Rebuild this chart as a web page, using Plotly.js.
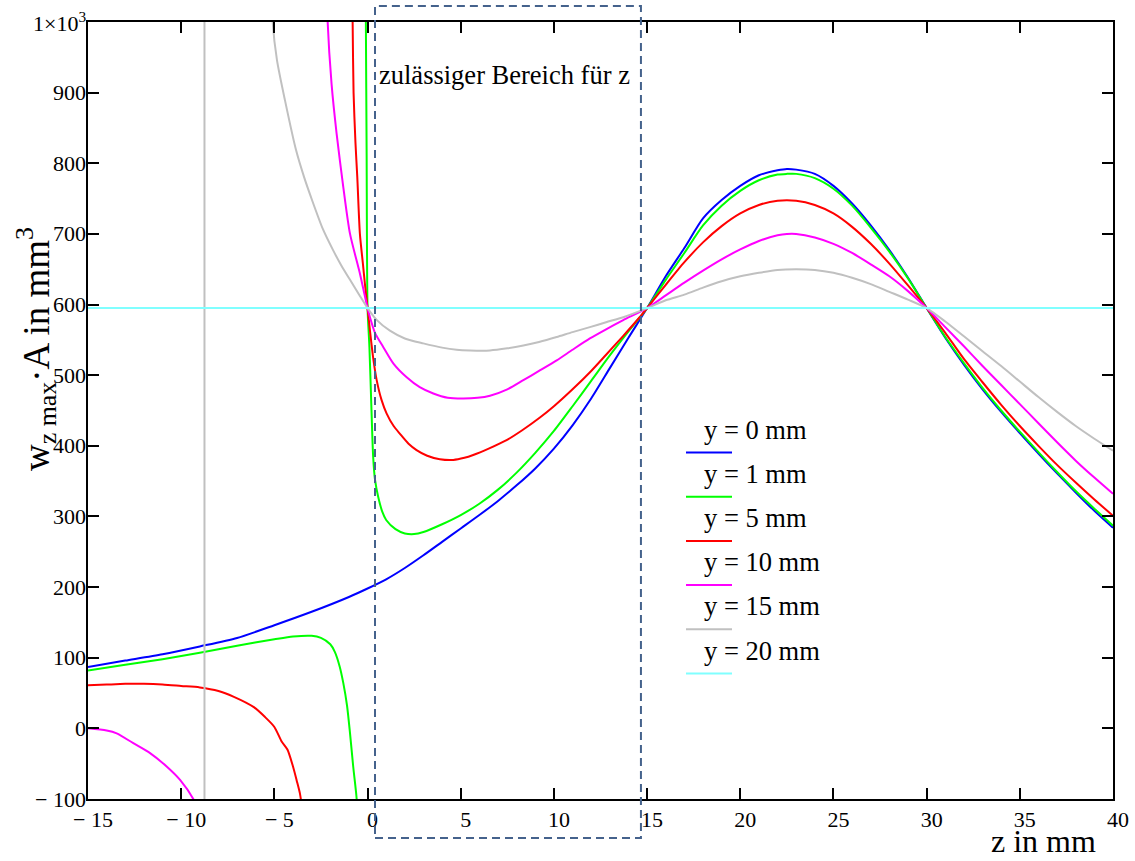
<!DOCTYPE html>
<html><head><meta charset="utf-8">
<script src="https://cdn.plot.ly/plotly-3.0.1.min.js"></script>
<style>html,body{margin:0;padding:0;background:#fff}#chart{width:1135px;height:861px}</style>
</head><body><div id="chart"></div>
<script>
// ---- data ----
const seriesNames = ['y = 0 mm','y = 1 mm','y = 5 mm','y = 10 mm','y = 15 mm','y = 20 mm'];

const z_y0 = [-15,-13,-11,-9,-7,-5,-3,-1,0,1,2,3,4,5,6,7,8,9,10,11,12,13,14,15,16,17,18,19,20,21,22,22.5,23,24,25,26,27,28,29,30,31,32,33,34,35,36,37,38,39,40];
const w_y0 = [87,96,105,116,128,146,165,186,198,211,227,245,264,283,302,322,344,368,396,429,467,510,553,595,640,680,722,748,768,783,790,792,791,785,768,743,712,677,638,595,553,515,480,448,418,389,361,334,308,284];

const z_y1 = [-15,-13,-11,-9,-7,-5,-4,-3,-2.5,-2,-1.75,-1.5,-1.3,-1.1,-0.94,-0.77,-0.6,-0.5,null,
  -0.11,-0.09,-0.05,0,0.1,0.2,0.3,0.4,0.57,0.8,1,1.5,2,2.5,3,4,5,6,7,8,9,10,11,12,13,14,15,
  16,17,18,19,20,21,22,22.5,23,24,25,26,27,28,29,30,31,32,33,34,35,36,37,38,39,40];
const w_y1 = [82,90,98,107,117,126,130,131,128,119,108,88,64,32,-7,-54,-95,-130,null,
  1100,1000,820,595,540,460,385,352,328,306,295,282,276,275,278,289,302,318,338,362,390,421,456,492,528,562,595,
  635,673,712,740,761,776,784,785,785,779,764,740,709,675,637,595,554,517,482,450,420,391,363,336,311,287];

const z_y5 = [-15,-14,-13,-12,-11,-10,-9,-8,-7.2,-6.1,-5.5,-5,-4.6,-4.3,-4,-3.8,-3.63,-3.5,null,
  -0.82,-0.8,-0.75,-0.65,-0.55,-0.41,-0.25,-0.14,0,0.13,0.3,0.49,0.75,1.02,1.4,1.74,2.2,2.63,3.2,3.88,4.6,5.2,5.67,6.5,7.46,8.3,9.25,10,11,12,12.8,13.7,14.6,15,
  16,17,18,19,20,21,22,23,24,25,26,27,28,29,30,31,32,33,34,35,36,37,38,39,40];
const w_y5 = [61,62,63,63,62,60,58,53,45,30,16,2,-19,-30,-54,-74,-92,-115,null,
  1050,1000,900,830,780,700,658,629,595,563,525,493,465,446,428,417,403,394,386,381,380,383,387,396,408,422,440,456,480,506,529,555,582,595,
  628,660,688,711,729,741,747,747,741,729,710,686,658,627,595,560,523,490,458,428,400,373,348,324,301];

const z_y10 = [-15,-14,-13.46,-12.57,-11.67,-10.78,-10.06,-9.35,-9.1,null,
  -2.18,-2.14,-1.93,-1.66,-1.3,-0.94,-0.41,0,0.13,0.4,0.84,1.4,2.1,2.8,3.53,4.3,5.14,5.9,6.57,7.5,8.36,9.2,10.15,11,11.93,12.8,13.72,15,
  16,17,18,19,20,21,22,22.5,23,24,25,26,27,28,29,30,31,32,33,34,35,36,37,38,39,40];
const w_y10 = [0,-3,-7,-21,-35,-54,-73,-100,-115,null,
  1050,1000,912,842,766,700,644,595,582,560,540,516,497,483,474,468,467,468,471,480,493,506,521,536,552,565,578,595,
  613,631,648,664,678,690,698,700,700,695,686,673,657,640,619,595,568,541,513,486,459,432,405,379,355,332];

const z_y15 = [-8.75,-8.75,null,
  -5.15,-5.09,-4.86,-4.43,-3.84,-3.4,-2.98,-2.4,-1.85,-1.4,-0.94,-0.45,0,0.5,1.2,2,2.99,4,4.78,5.5,6.57,7.5,8.36,9.2,10.15,11,11.93,12.8,13.72,15,
  16,17,18,19,20,21,22,23,24,25,26,27,28,29,30,31,32,33,34,35,36,37,38,39,40];
const w_y15 = [-150,1150,null,
  1080,1000,946,889,819,780,748,707,677,655,635,614,595,578,563,552,545,539,536,535,535,538,542,547,554,561,568,575,582,595,
  606,614,624,633,640,645,649,650,649,645,638,629,618,607,595,576,555,534,513,491,469,448,428,410,393];

const z_y20 = [-15,40];
const w_y20 = [595,595];

const xTickVals = [-15,-10,-5,0,5,10,15,20,25,30,35,40];
const xTickText = ['\u2212 15','\u2212 10','\u2212 5','0','5','10','15','20','25','30','35','40'];
const yTickVals = [-100,0,100,200,300,400,500,600,700,800,900,1000];
const yTickText = ['\u2212 100','0','100','200','300','400','500','600','700','800','900','1\u00d710<sup>3</sup>'];

const zoneLabel = 'zul\u00e4ssiger Bereich f\u00fcr z';
const xTitle = 'z in mm';
const yTitle = 'w<sub>z max</sub>\u00b7A in mm<sup>3</sup>';

// ---- styling ----
const colors = ['#0000FF','#00FF00','#FF0000','#FF00FF','#C0C0C0','#80FFFF'];
const FONT = '"Liberation Serif", "Times New Roman", serif';
const xRange = [-15, 40], yRange = [-100, 1000];

const zs = [z_y0, z_y1, z_y5, z_y10, z_y15, z_y20];
const ws = [w_y0, w_y1, w_y5, w_y10, w_y15, w_y20];

const traces = zs.map((z, i) => ({
  x: z, y: ws[i], type: 'scatter', mode: 'lines', name: seriesNames[i],
  line: {color: colors[i], width: 2, shape: 'spline', smoothing: 0.7},
  connectgaps: false, hoverinfo: 'skip', showlegend: false
}));

const px2paperX = px => (px - 88) / 1025;
const py2paperY = py => (799 - py) / 777;
const z2paper = z => (z - xRange[0]) / (xRange[1] - xRange[0]);

const shapes = [{
  type: 'rect', xref: 'paper', yref: 'paper',
  x0: z2paper(0.40), x1: z2paper(14.67), y0: py2paperY(838), y1: py2paperY(6),
  line: {color: '#45628C', width: 2, dash: '8px,5px'}, fillcolor: 'rgba(0,0,0,0)', layer: 'above'
}];
const annotations = [
  {xref: 'paper', yref: 'paper', x: px2paperX(377), y: py2paperY(75), xanchor: 'left', yanchor: 'middle',
   text: zoneLabel, showarrow: false, font: {family: FONT, size: 26.5, color: '#000'}},
  {xref: 'paper', yref: 'paper', x: px2paperX(1097), y: py2paperY(860), xanchor: 'right', yanchor: 'bottom',
   text: xTitle, showarrow: false, borderpad: 0, font: {family: FONT, size: 32, color: '#000'}},
  {xref: 'paper', yref: 'paper', x: px2paperX(36), y: py2paperY(349), xanchor: 'center', yanchor: 'middle',
   textangle: -90, text: yTitle, showarrow: false, font: {family: FONT, size: 37, color: '#000'}}
];
// y tick labels placed on the y axis scale, hugging the axis line as in the reference
yTickVals.forEach((v, i) => {
  annotations.push({xref: 'paper', yref: 'y', x: 0, y: v, xanchor: 'right', yanchor: 'middle',
    xshift: -1, text: yTickText[i], showarrow: false, borderpad: 0,
    font: {family: FONT, size: 22, color: '#000'}});
});
seriesNames.forEach((nm, i) => {
  const lineY = 452.5 + i * 44.2;
  shapes.push({type: 'line', xref: 'paper', yref: 'paper',
    x0: px2paperX(686), x1: px2paperX(732), y0: py2paperY(lineY), y1: py2paperY(lineY),
    line: {color: colors[i], width: 2}});
  annotations.push({xref: 'paper', yref: 'paper', x: px2paperX(702), y: py2paperY(lineY - 23),
    xanchor: 'left', yanchor: 'middle', text: nm, showarrow: false,
    font: {family: FONT, size: 26.5, color: '#000'}});
});

const axisCommon = {
  showgrid: false, zeroline: false, showline: true, linecolor: '#000', linewidth: 2,
  mirror: 'ticks', ticks: 'inside', ticklen: 11, tickwidth: 2, tickcolor: '#000',
  tickfont: {family: FONT, size: 22, color: '#000'}, tickmode: 'array', fixedrange: true
};

const layout = {
  width: 1135, height: 861,
  margin: {l: 88, r: 22, t: 22, b: 62, autoexpand: false},
  paper_bgcolor: '#fff', plot_bgcolor: '#fff',
  font: {family: FONT, color: '#000'},
  showlegend: false,
  xaxis: Object.assign({}, axisCommon, {range: xRange, tickvals: xTickVals, ticktext: xTickText, ticklabelshift: 5}),
  yaxis: Object.assign({}, axisCommon, {range: yRange, tickvals: yTickVals, showticklabels: false}),
  shapes: shapes,
  annotations: annotations
};

Plotly.newPlot('chart', traces, layout, {displayModeBar: false, staticPlot: true});
</script></body></html>
